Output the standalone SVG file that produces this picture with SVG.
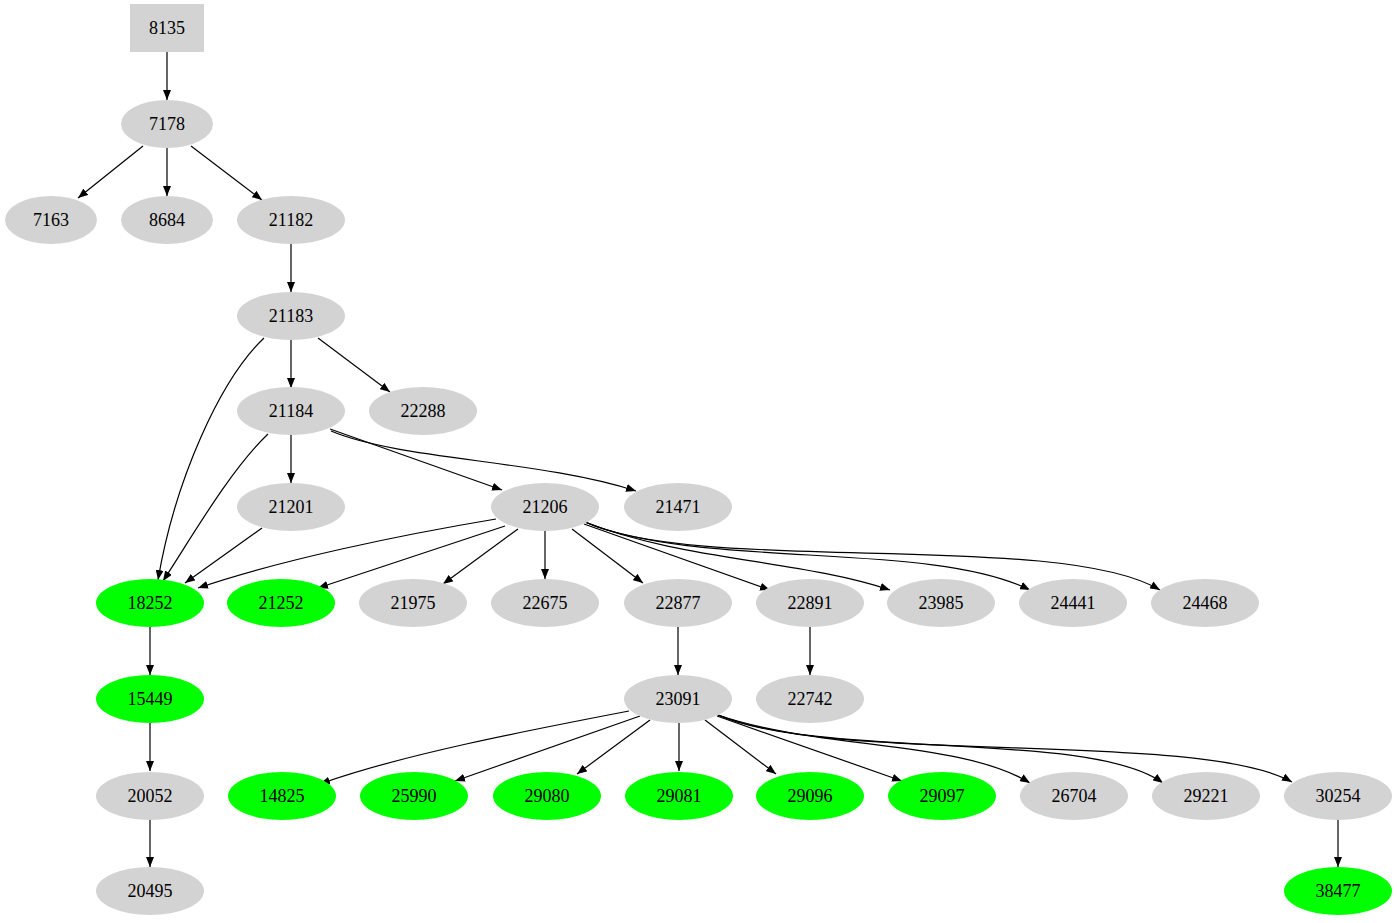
<svg xmlns="http://www.w3.org/2000/svg" width="1397" height="923" viewBox="0 0 1397 923">
<style>
.g{fill:#d3d3d3}.v{fill:#00ff00}
text{font-family:"Liberation Serif",serif;font-size:18px;text-anchor:middle;dominant-baseline:central;fill:#000}
.e{fill:none;stroke:#000;stroke-width:1.2;marker-end:url(#a)}
</style>
<defs><marker id="a" markerWidth="10" markerHeight="8" refX="10" refY="4" orient="auto" markerUnits="userSpaceOnUse"><path d="M0,0L10,4L0,8z" fill="#000"/></marker></defs>
<rect width="1397" height="923" fill="#fff"/>
<g id="connectors">
<path class="e" d="M167,52L167,100"/>
<path class="e" d="M143,146L78,198"/>
<path class="e" d="M167,148L167,196"/>
<path class="e" d="M191,146L262,200"/>
<path class="e" d="M291,244L291,292"/>
<path class="e" d="M291,340L291,388"/>
<path class="e" d="M318,338L390,392"/>
<path class="e" d="M264,338C220,380 175,480 158,580"/>
<path class="e" d="M268,434C230,470 190,540 163,581"/>
<path class="e" d="M291,435L291,483"/>
<path class="e" d="M330,429L502,490"/>
<path class="e" d="M331,431C400,460 540,460 636,491"/>
<path class="e" d="M262,528L185,583"/>
<path class="e" d="M496,519C400,535 280,560 198,588"/>
<path class="e" d="M505,526L318,588"/>
<path class="e" d="M518,529L443,584"/>
<path class="e" d="M545,531L545,579"/>
<path class="e" d="M572,529L643,583"/>
<path class="e" d="M584,524L770,590"/>
<path class="e" d="M585,522C680,560 800,560 890,590"/>
<path class="e" d="M585,522C700,570 930,540 1030,590"/>
<path class="e" d="M585,522C700,575 1060,530 1160,590"/>
<path class="e" d="M150,627L150,675"/>
<path class="e" d="M150,723L150,771"/>
<path class="e" d="M150,820L150,867"/>
<path class="e" d="M678,627L678,675"/>
<path class="e" d="M810,627L810,675"/>
<path class="e" d="M629,711C530,730 400,755 320,784"/>
<path class="e" d="M640,716L455,781"/>
<path class="e" d="M650,720L577,774"/>
<path class="e" d="M679,723L679,771"/>
<path class="e" d="M705,720L776,774"/>
<path class="e" d="M717,716L902,781"/>
<path class="e" d="M718,715C820,750 960,740 1030,783"/>
<path class="e" d="M718,715C830,760 1090,730 1163,783"/>
<path class="e" d="M718,715C830,765 1200,730 1292,782"/>
<path class="e" d="M1338,820L1338,867"/>
</g>
<g id="n8135"><rect class="g" x="130" y="4" width="74" height="48"/><text x="167" y="28">8135</text></g>
<g id="n7178"><ellipse class="g" cx="167" cy="124" rx="46" ry="24"/><text x="167" y="124">7178</text></g>
<g id="n7163"><ellipse class="g" cx="51" cy="220" rx="46" ry="24"/><text x="51" y="220">7163</text></g>
<g id="n8684"><ellipse class="g" cx="167" cy="220" rx="46" ry="24"/><text x="167" y="220">8684</text></g>
<g id="n21182"><ellipse class="g" cx="291" cy="220" rx="54" ry="24"/><text x="291" y="220">21182</text></g>
<g id="n21183"><ellipse class="g" cx="291" cy="316" rx="54" ry="24"/><text x="291" y="316">21183</text></g>
<g id="n21184"><ellipse class="g" cx="291" cy="411" rx="54" ry="24"/><text x="291" y="411">21184</text></g>
<g id="n22288"><ellipse class="g" cx="423" cy="411" rx="54" ry="24"/><text x="423" y="411">22288</text></g>
<g id="n21201"><ellipse class="g" cx="291" cy="507" rx="54" ry="24"/><text x="291" y="507">21201</text></g>
<g id="n21206"><ellipse class="g" cx="545" cy="507" rx="54" ry="24"/><text x="545" y="507">21206</text></g>
<g id="n21471"><ellipse class="g" cx="678" cy="507" rx="54" ry="24"/><text x="678" y="507">21471</text></g>
<g id="n18252"><ellipse class="v" cx="150" cy="603" rx="54" ry="24"/><text x="150" y="603">18252</text></g>
<g id="n21252"><ellipse class="v" cx="281" cy="603" rx="54" ry="24"/><text x="281" y="603">21252</text></g>
<g id="n21975"><ellipse class="g" cx="413" cy="603" rx="54" ry="24"/><text x="413" y="603">21975</text></g>
<g id="n22675"><ellipse class="g" cx="545" cy="603" rx="54" ry="24"/><text x="545" y="603">22675</text></g>
<g id="n22877"><ellipse class="g" cx="678" cy="603" rx="54" ry="24"/><text x="678" y="603">22877</text></g>
<g id="n22891"><ellipse class="g" cx="810" cy="603" rx="54" ry="24"/><text x="810" y="603">22891</text></g>
<g id="n23985"><ellipse class="g" cx="941" cy="603" rx="54" ry="24"/><text x="941" y="603">23985</text></g>
<g id="n24441"><ellipse class="g" cx="1073" cy="603" rx="54" ry="24"/><text x="1073" y="603">24441</text></g>
<g id="n24468"><ellipse class="g" cx="1205" cy="603" rx="54" ry="24"/><text x="1205" y="603">24468</text></g>
<g id="n15449"><ellipse class="v" cx="150" cy="699" rx="54" ry="24"/><text x="150" y="699">15449</text></g>
<g id="n23091"><ellipse class="g" cx="678" cy="699" rx="54" ry="24"/><text x="678" y="699">23091</text></g>
<g id="n22742"><ellipse class="g" cx="810" cy="699" rx="54" ry="24"/><text x="810" y="699">22742</text></g>
<g id="n20052"><ellipse class="g" cx="150" cy="796" rx="54" ry="24"/><text x="150" y="796">20052</text></g>
<g id="n14825"><ellipse class="v" cx="282" cy="796" rx="54" ry="24"/><text x="282" y="796">14825</text></g>
<g id="n25990"><ellipse class="v" cx="414" cy="796" rx="54" ry="24"/><text x="414" y="796">25990</text></g>
<g id="n29080"><ellipse class="v" cx="547" cy="796" rx="54" ry="24"/><text x="547" y="796">29080</text></g>
<g id="n29081"><ellipse class="v" cx="679" cy="796" rx="54" ry="24"/><text x="679" y="796">29081</text></g>
<g id="n29096"><ellipse class="v" cx="810" cy="796" rx="54" ry="24"/><text x="810" y="796">29096</text></g>
<g id="n29097"><ellipse class="v" cx="942" cy="796" rx="54" ry="24"/><text x="942" y="796">29097</text></g>
<g id="n26704"><ellipse class="g" cx="1074" cy="796" rx="54" ry="24"/><text x="1074" y="796">26704</text></g>
<g id="n29221"><ellipse class="g" cx="1206" cy="796" rx="54" ry="24"/><text x="1206" y="796">29221</text></g>
<g id="n30254"><ellipse class="g" cx="1338" cy="796" rx="54" ry="24"/><text x="1338" y="796">30254</text></g>
<g id="n20495"><ellipse class="g" cx="150" cy="891" rx="54" ry="24"/><text x="150" y="891">20495</text></g>
<g id="n38477"><ellipse class="v" cx="1338" cy="891" rx="54" ry="24"/><text x="1338" y="891">38477</text></g>
</svg>
